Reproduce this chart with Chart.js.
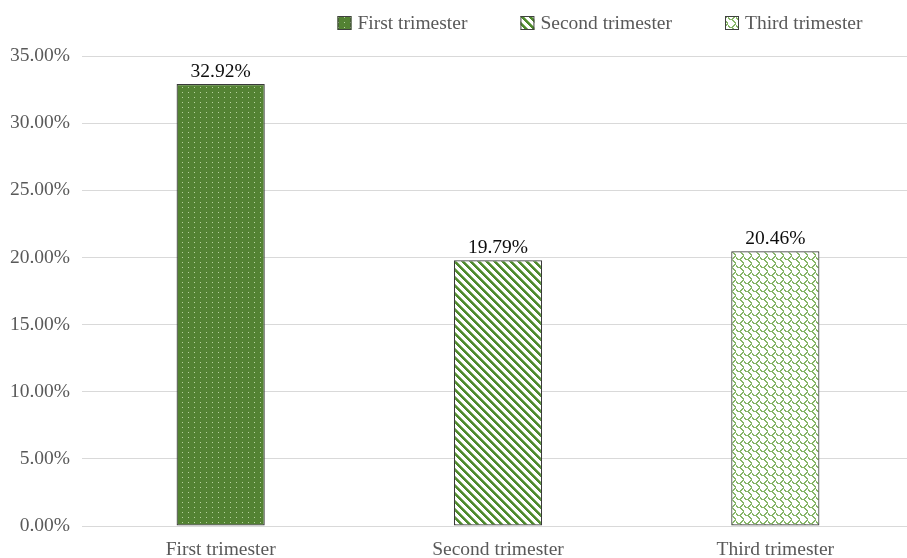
<!DOCTYPE html>
<html>
<head>
<meta charset="utf-8">
<script src="https://cdn.jsdelivr.net/npm/chart.js@4.4.0/dist/chart.umd.min.js"></script>
<style>
  html, body { margin: 0; padding: 0; background: #ffffff; overflow: hidden; }
  #wrap { width: 914px; height: 558px; position: relative; }
</style>
</head>
<body>
<div id="wrap"><canvas id="c"></canvas></div>
<script>
const categories = ["First trimester", "Second trimester", "Third trimester"];
const values = [0.3292, 0.1979, 0.2046];
const valueLabels = ["32.92%", "19.79%", "20.46%"];
const yTicks = [0, 0.05, 0.10, 0.15, 0.20, 0.25, 0.30, 0.35];

const FONT = "'Liberation Serif', 'Times New Roman', serif";

function makeTile(w, h, draw) {
  const c = document.createElement('canvas');
  c.width = w; c.height = h;
  const x = c.getContext('2d');
  draw(x, w, h);
  return document.getElementById('c').getContext('2d').createPattern(c, 'repeat');
}

// First: dark green with light dots
const patDots = makeTile(6, 5, (x, w, h) => {
  x.fillStyle = '#538233';
  x.fillRect(0, 0, w, h);
  x.fillStyle = '#b7d39f';
  x.fillRect(2, 2, 1, 1);
});
// Second: wide downward diagonal stripes
const patStripes = makeTile(8, 8, (x, w, h) => {
  x.fillStyle = '#ffffff';
  x.fillRect(0, 0, w, h);
  for (let yy = 0; yy < h; yy++) {
    for (let xx = 0; xx < w; xx++) {
      const d = ((xx - yy) % 8 + 8) % 8;
      if (d < 3) { x.fillStyle = '#4f8a2e'; x.fillRect(xx, yy, 1, 1); }
      else if (d === 3) { x.fillStyle = '#8fb874'; x.fillRect(xx, yy, 1, 1); }
    }
  }
});
// Third: light green shingle pattern
const patShingle = makeTile(8, 8, (x, w, h) => {
  x.fillStyle = '#ffffff';
  x.fillRect(0, 0, w, h);
  const rows = [
    "00000011",
    "10000110",
    "11001100",
    "01111000",
    "00001100",
    "00000110",
    "00000011",
    "00000001"
  ];
  for (let yy = 0; yy < 8; yy++) {
    for (let xx = 0; xx < 8; xx++) {
      if (rows[yy][xx] === '1') { x.fillStyle = '#86b567'; x.fillRect(xx, yy, 1, 1); }
    }
  }
});
const patterns = [patDots, patStripes, patShingle];

const labelPlugin = {
  id: 'valueLabels',
  afterDatasetsDraw(chart) {
    const ctx = chart.ctx;
    const meta = chart.getDatasetMeta(0);
    ctx.save();
    ctx.font = '19.5px ' + FONT;
    ctx.fillStyle = '#0d0d0d';
    ctx.textAlign = 'center';
    ctx.textBaseline = 'alphabetic';
    meta.data.forEach((bar, i) => {
      ctx.fillText(valueLabels[i], bar.x, bar.y - 7);
    });
    ctx.restore();
  }
};

const legendPlugin = {
  id: 'customLegend',
  afterDraw(chart) {
    const ctx = chart.ctx;
    ctx.save();
    ctx.font = '19.5px ' + FONT;
    const boxW = 14, gapText = 6, gapItem = 53;
    const widths = categories.map(t => boxW + gapText + ctx.measureText(t).width);
    const total = widths.reduce((a, b) => a + b, 0) + gapItem * (categories.length - 1);
    let x = 600 - total / 2;
    const yBox = 16;
    categories.forEach((t, i) => {
      ctx.fillStyle = patterns[i];
      ctx.fillRect(x, yBox, boxW, boxW);
      ctx.strokeStyle = '#404040';
      ctx.lineWidth = 1;
      ctx.strokeRect(x + 0.5, yBox + 0.5, boxW - 1, boxW - 1);
      ctx.fillStyle = '#595959';
      ctx.textBaseline = 'alphabetic';
      ctx.textAlign = 'left';
      ctx.fillText(t, x + boxW + gapText, yBox + 13);
      x += widths[i] + gapItem;
    });
    ctx.restore();
  }
};

new Chart(document.getElementById('c'), {
  type: 'bar',
  data: {
    labels: categories,
    datasets: [{
      label: 'Share',
      data: values,
      backgroundColor: patterns,
      borderColor: '#3a3a3a',
      borderWidth: 1.2,
      borderSkipped: false,
      barPercentage: 0.318,
      categoryPercentage: 1.0
    }]
  },
  options: {
    responsive: true,
    maintainAspectRatio: false,
    animation: false,
    devicePixelRatio: 1,
    layout: { padding: { top: 56, left: 0, right: 0, bottom: 0 } },
    plugins: {
      legend: { display: false },
      tooltip: { enabled: false }
    },
    scales: {
      x: {
        grid: { display: false, drawTicks: false },
        border: { display: false },
        ticks: {
          color: '#595959',
          font: { family: FONT, size: 19.5 },
          padding: 12,
          maxRotation: 0,
          autoSkip: false
        },
        afterFit(scale) { scale.height = 32; }
      },
      y: {
        min: 0,
        max: 0.35,
        afterBuildTicks(scale) { scale.ticks = yTicks.map(v => ({ value: v })); },
        grid: { color: '#d9d9d9', lineWidth: 1, drawTicks: false },
        border: { display: false },
        ticks: {
          color: '#595959',
          font: { family: FONT, size: 19.5 },
          padding: 12,
          callback: (v) => (v * 100).toFixed(2) + '%'
        },
        afterFit(scale) { scale.width = 82; }
      }
    }
  },
  plugins: [labelPlugin, legendPlugin]
});
</script>
</body>
</html>
